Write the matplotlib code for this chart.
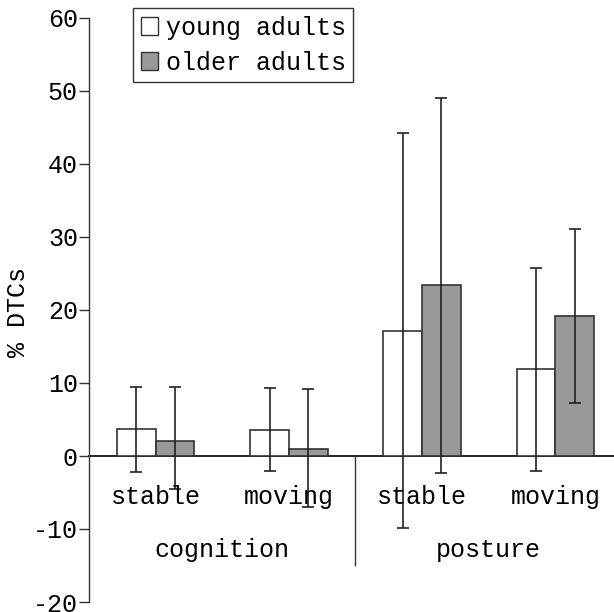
import numpy as np
import matplotlib
matplotlib.use('Agg')
import matplotlib.pyplot as plt
from matplotlib.patches import Patch

conditions = ['stable', 'moving', 'stable', 'moving']
tasks = ['cognition', 'posture']
young_mean = [3.7, 3.55, 17.1, 11.9]
young_low = [-2.2, -2.0, -9.9, -2.0]
young_high = [9.45, 9.3, 44.2, 25.7]
older_mean = [2.05, 1.0, 23.4, 19.2]
older_low = [-4.5, -7.0, -2.3, 7.3]
older_high = [9.45, 9.2, 49.1, 31.1]
yticks = [-20, -10, 0, 10, 20, 30, 40, 50, 60]

FONT = 'Liberation Mono'
FS = 18

fig = plt.figure(figsize=(6.14, 6.12), dpi=100)
ax = fig.add_axes([89 / 614, 10 / 612, 1 - 89 / 614, 1 - 28 / 612])

x = np.arange(len(conditions))
w = 0.29
ym = np.array(young_mean)
om = np.array(older_mean)
yerr = [ym - np.array(young_low), np.array(young_high) - ym]
oerr = [om - np.array(older_low), np.array(older_high) - om]

ax.bar(x - w / 2, ym, w, color='white', edgecolor='#333333', linewidth=1.2, zorder=2)
ax.bar(x + w / 2, om, w, color='#999999', edgecolor='#333333', linewidth=1.2, zorder=2)
ax.errorbar(x - w / 2, ym, yerr=yerr, fmt='none', ecolor='#222222',
            elinewidth=1.2, capsize=4, capthick=1.2, zorder=3)
ax.errorbar(x + w / 2, om, yerr=oerr, fmt='none', ecolor='#222222',
            elinewidth=1.2, capsize=4, capthick=1.2, zorder=3)

ax.axhline(0, color='black', linewidth=1.2, zorder=1, clip_on=False)
ax.vlines(1.5, -15, 0, color='#333333', linewidth=1.0)

for xi, c in zip(x, conditions):
    ax.text(xi, -5.6, c, ha='center', va='center', family=FONT, fontsize=FS)
for i, t in enumerate(tasks):
    ax.text(2 * i + 0.5, -12.9, t, ha='center', va='center', family=FONT, fontsize=FS)

ax.set_xlim(-0.5, 3.44)
ax.set_ylim(-20, 60)
ax.set_yticks(yticks)
ax.set_yticklabels([str(v) for v in yticks], family=FONT, fontsize=FS)
ax.set_xticks([])
ax.tick_params(axis='y', direction='out', length=7, width=1.0, color='#333333', pad=1)
for s in ['top', 'right', 'bottom']:
    ax.spines[s].set_visible(False)
ax.spines['left'].set_color('#333333')
ax.spines['left'].set_linewidth(1.0)
fig.text(18 / 614, 1 - 312 / 612, '% DTCs', rotation=90, ha='center', va='center',
         family=FONT, fontsize=FS)

handles = [Patch(facecolor='white', edgecolor='#333333', linewidth=1.0),
           Patch(facecolor='#999999', edgecolor='#333333', linewidth=1.0)]
leg = fig.legend(handles, ['young adults', 'older adults'], loc='upper left',
                 bbox_to_anchor=(133 / 614, 1 - 8 / 612), borderaxespad=0,
                 prop={'family': FONT, 'size': FS}, fancybox=False,
                 handlelength=0.7, handleheight=0.7, handletextpad=0.3,
                 borderpad=0.3, labelspacing=0.45, framealpha=1)
leg.get_frame().set_edgecolor('#333333')
leg.get_frame().set_linewidth(1.0)

fig.savefig('out.png', dpi=100)
